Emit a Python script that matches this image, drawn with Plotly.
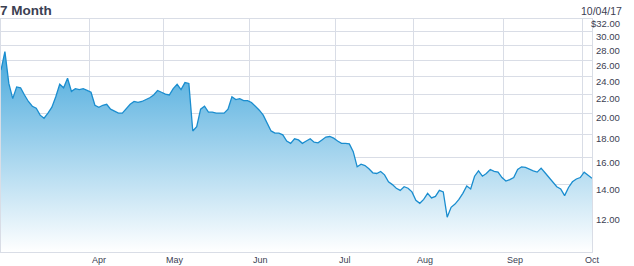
import numpy as np
import pandas as pd
import plotly.graph_objects as go

# ---- data ----
holidays = ["2017-04-14", "2017-05-29", "2017-07-04", "2017-09-04"]
dates = [d for d in pd.bdate_range("2017-03-01", "2017-10-04") if d.strftime("%Y-%m-%d") not in holidays]

prices = [
    24.8, 27.2, 23.2, 21.5, 22.8, 22.7, 21.9, 21.2, 20.7, 20.5,
    19.8, 19.5, 20.0, 20.6, 21.7, 23.1, 22.7, 23.8, 22.3, 22.6,
    22.5, 22.6, 22.4, 22.2, 20.8, 20.6, 20.8, 20.9, 20.4, 20.2,
    20.0, 20.0, 20.5, 20.9, 21.2, 21.1, 21.2, 21.4, 21.6, 21.9,
    22.4, 22.2, 22.0, 21.9, 22.6, 23.1, 22.5, 23.3, 23.2, 18.3,
    18.7, 20.4, 20.7, 20.1, 20.1, 20.0, 20.0, 20.0, 20.4, 21.7,
    21.4, 21.5, 21.3, 21.3, 21.1, 20.7, 20.3, 19.8, 19.0, 18.3,
    18.1, 18.1, 17.95, 17.4, 17.2, 17.6, 17.5, 17.2, 17.4, 17.6,
    17.3, 17.25, 17.5, 17.75, 17.8, 17.65, 17.4, 17.2, 17.2, 17.15,
    16.5, 15.3, 15.5, 15.4, 15.15, 14.85, 14.8, 14.95, 14.7, 14.2,
    14.0, 13.75, 13.6, 13.85, 13.75, 13.5, 12.95, 12.75, 13.0, 13.4,
    13.1, 13.2, 13.6, 13.5, 11.9, 12.5, 12.7, 13.0, 13.4, 13.9,
    13.7, 14.6, 15.0, 14.6, 14.8, 15.1, 14.95, 14.9, 14.5, 14.25,
    14.35, 14.5, 15.1, 15.3, 15.25, 15.1, 15.0, 14.9, 15.2, 14.85,
    14.5, 14.1, 13.85, 13.7, 13.25, 13.8, 14.2, 14.4, 14.5, 14.9,
    14.7, 14.45,
]

y_ticks = [12, 14, 16, 18, 20, 22, 24, 26, 28, 30, 32]
y_labels = ["12.00", "14.00", "16.00", "18.00", "20.00", "22.00", "24.00",
            "26.00", "28.00", "30.00", "$32.00"]
title_text = "7 Month"
date_text = "10/04/17"

# ---- derived positions ----
idx = list(range(len(prices)))
month_starts = [i for i in range(1, len(dates)) if dates[i].month != dates[i - 1].month]
month_grid = [i - 0.5 for i in month_starts]
month_names = [dates[i].strftime("%b") for i in month_starts]

TXT = "#3b4052"
GRID = "#d9dde6"
FONT = "Liberation Sans, Arial, sans-serif"

fig = go.Figure()
fig.add_trace(go.Scatter(
    x=idx, y=prices, mode="lines",
    line=dict(color="#1a8dcf", width=1.3),
    fill="tozeroy",
    fillgradient=dict(type="vertical",
                      colorscale=[[0, "rgba(255,255,255,1)"], [1, "#42a6db"]],
                      start=10, stop=28),
    hoverinfo="skip",
))

annotations = []
for v, t in zip(y_ticks, y_labels):
    annotations.append(dict(
        xref="paper", x=1, xanchor="right", xshift=30,
        yref="y", y=np.log10(v), yanchor="middle", yshift=-4.5,
        text=t, showarrow=False, font=dict(family=FONT, size=9.5, color=TXT)))
for g, m in zip(month_grid, month_names):
    annotations.append(dict(
        xref="x", x=g, xanchor="left", xshift=1,
        yref="paper", y=0, yanchor="middle", yshift=-7.5,
        text=m, showarrow=False, font=dict(family=FONT, size=9, color=TXT)))
annotations.append(dict(
    xref="paper", x=0, xanchor="left", xshift=-3,
    yref="paper", y=1, yanchor="middle", yshift=9,
    text="<b>" + title_text + "</b>", showarrow=False,
    font=dict(family=FONT, size=13.5, color=TXT)))
annotations.append(dict(
    xref="paper", x=1, xanchor="right", xshift=32,
    yref="paper", y=1, yanchor="middle", yshift=8,
    text=date_text, showarrow=False,
    font=dict(family=FONT, size=10.5, color=TXT)))

fig.update_layout(
    width=634, height=266,
    margin=dict(l=1, r=42, t=19, b=14),
    paper_bgcolor="white", plot_bgcolor="white",
    showlegend=False,
    annotations=annotations,
    xaxis=dict(range=[0, len(prices) - 1], tickvals=month_grid, showticklabels=False,
               ticks="", showgrid=True, gridcolor=GRID, gridwidth=1,
               showline=True, linecolor=GRID, linewidth=1, mirror=True, zeroline=False),
    yaxis=dict(type="log", range=[1.0, np.log10(32)], tickvals=y_ticks,
               showticklabels=False, ticks="", showgrid=True, gridcolor=GRID,
               gridwidth=1, showline=True, linecolor=GRID, linewidth=1, mirror=True,
               zeroline=False),
)

fig.write_html("out.html")
